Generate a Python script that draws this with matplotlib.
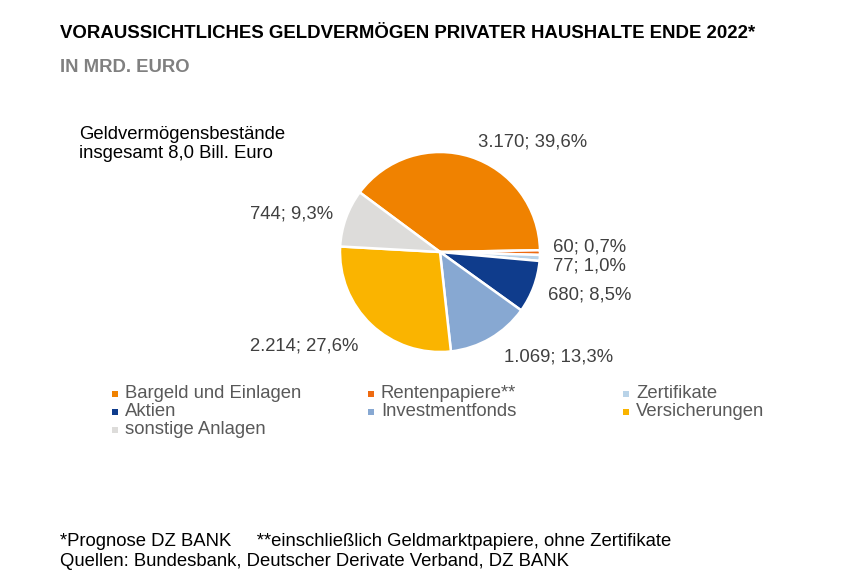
import matplotlib
matplotlib.use("Agg")
import matplotlib.pyplot as plt
from matplotlib.patches import Rectangle

categories = ["Bargeld und Einlagen", "Rentenpapiere**", "Zertifikate",
              "Aktien", "Investmentfonds", "Versicherungen", "sonstige Anlagen"]
values = [3170, 60, 77, 680, 1069, 2214, 744]
colors = ["#F08200", "#EE6A10", "#B9D3E8", "#0F3C8C", "#87A8D2", "#FAB400", "#DDDCDA"]

title = "VORAUSSICHTLICHES GELDVERMÖGEN PRIVATER HAUSHALTE ENDE 2022*"
subtitle = "IN MRD. EURO"
note = "Geldvermögensbestände\ninsgesamt 8,0 Bill. Euro"
footnote1 = "*Prognose DZ BANK     **einschließlich Geldmarktpapiere, ohne Zertifikate"
footnote2 = "Quellen: Bundesbank, Deutscher Derivate Verband, DZ BANK"

plt.rcParams['font.family'] = ['Liberation Sans', 'DejaVu Sans']

W, H = 844, 587
fig = plt.figure(figsize=(W / 100, H / 100), dpi=100)
FS = 13.3

def fx(x):
    return x / W

def fy(y):
    return 1 - y / H

# pie axes: centre (440, 252), radius 100 px
cx, cy, r = 440, 252, 100
ax = fig.add_axes([fx(cx - r), fy(cy + r), 2 * r / W, 2 * r / H])
total = sum(values)
ax.pie(values, colors=colors, startangle=143.4, counterclock=False,
       wedgeprops=dict(edgecolor="white", linewidth=1.8))
ax.set_xlim(-1, 1)
ax.set_ylim(-1, 1)
ax.set_aspect("equal")
ax.axis("off")

def fmt_label(v):
    pct = v / total * 100
    return f"{v:,}".replace(",", ".") + "; " + f"{pct:.1f}".replace(".", ",") + "%"

# label positions (pixel, anchor)
label_pos = [
    (478, 142, "left"),
    (553, 247, "left"),
    (553, 266, "left"),
    (548, 295, "left"),
    (504, 357, "left"),
    (358, 346, "right"),
    (333, 214, "right"),
]
for v, (x, y, ha) in zip(values, label_pos):
    fig.text(fx(x), fy(y), fmt_label(v), ha=ha, va="center",
             fontsize=FS, color="#404040")

fig.text(fx(60), fy(34), title, ha="left", va="center", fontsize=13.4,
         fontweight="bold", color="black")
fig.text(fx(60), fy(68), subtitle, ha="left", va="center", fontsize=13.3,
         fontweight="bold", color="#808080")
fig.text(fx(79), fy(144), note, ha="left", va="center", fontsize=FS,
         color="black", linespacing=1.2)

# legend (rows filled first)
col_x = [112, 368, 623]
row_y = [394, 412, 430]
sq = 6
for i, (cat, col) in enumerate(zip(categories, colors)):
    rr, cc = divmod(i, 3)
    x, y = col_x[cc], row_y[rr]
    fig.patches.append(Rectangle((fx(x), fy(y + sq / 2)), sq / W, sq / H,
                                 transform=fig.transFigure, facecolor=col,
                                 edgecolor="none"))
    fig.text(fx(x + 13), fy(y), cat, ha="left", va="center",
             fontsize=FS, color="#595959")

fig.text(fx(60), fy(542), footnote1, ha="left", va="center", fontsize=FS, color="black")
fig.text(fx(60), fy(561), footnote2, ha="left", va="center", fontsize=FS, color="black")

fig.savefig("out.png", dpi=100, facecolor="white")
